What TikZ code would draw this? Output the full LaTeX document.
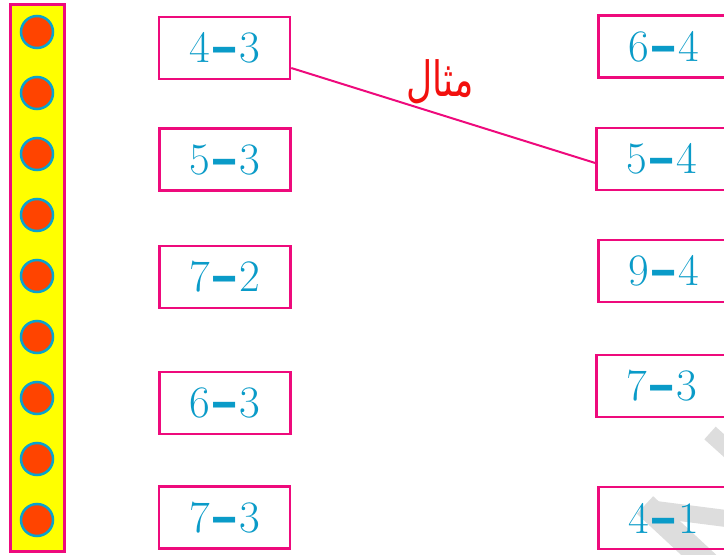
\documentclass[tikz,border=0pt]{standalone}
\usepackage{fontspec}
\usepackage{xcolor}
\usetikzlibrary{calc}
\TeXXeTstate=1
\newfontfamily\urdufont[Script=Arabic]{DejaVu Sans}
\newfontfamily\dashfont{DejaVu Sans}
\newcommand{\dsh}{\kern0.5pt\scalebox{1.25}[1]{\dashfont\bfseries –}\kern0.5pt}
\definecolor{rim}{HTML}{EE0A7C}
\definecolor{digit}{HTML}{0A9BC8}
\definecolor{dotfill}{HTML}{FF4400}
\definecolor{dotrim}{HTML}{0AA2CE}
\definecolor{strip}{HTML}{FFFF00}
\definecolor{wmgrey}{HTML}{DDDDDD}
\definecolor{wordred}{HTML}{F2100E}

\begin{document}
\begin{tikzpicture}[x=1pt,y=-1pt,
  b/.style={draw=rim,line width=2.5pt,minimum width=131pt,minimum height=62pt,inner sep=0pt,
    text=digit,font=\fontsize{45}{50}\selectfont},
  dot/.style={circle,draw=dotrim,line width=2.5pt,fill=dotfill,minimum size=32pt,inner sep=0pt},
  wm/.style={line width=17pt,draw=wmgrey}]
\useasboundingbox (0,0) rectangle (724,555);
\clip (0,0) rectangle (724,555);
% faint watermark strokes
\draw[wm] (710,433) -- (760,478);
\draw[wm,line width=24pt] (645,505) -- (715,570);
\draw[wm] (652,509) -- (730,519);
% strip of dots
\node[draw=rim,line width=3pt,fill=strip,minimum width=54pt,minimum height=547pt,inner sep=0pt] (bar) at (37,277.5) {};
\foreach \i in {1,...,9}
  \node[dot] (d\i) at (37,{32+61*(\i-1)}) {};
% left column
\node[b] (l1) at (224.5,48) {4\dsh3};
\node[b] (l2) at (225,159.5) {5\dsh3};
\node[b] (l3) at (225,277) {7\dsh2};
\node[b] (l4) at (225,403) {6\dsh3};
\node[b] (l5) at (224.5,517.5) {7\dsh3};
% right column
\node[b] (r1) at (664,46.5) {6\dsh4};
\node[b] (r2) at (662,159) {5\dsh4};
\node[b] (r3) at (664,271) {9\dsh4};
\node[b] (r4) at (662,386) {7\dsh3};
\node[b] (r5) at (664,518) {4\dsh1};
\draw[rim,line width=2pt] ([yshift=-20pt]l1.east) -- ([yshift=-4pt]r2.west);
\node[text=wordred,font=\fontsize{36}{42}\selectfont] (word) at (440,82) {\scalebox{1}[1.35]{\urdufont\beginR مثال\endR}};
\end{tikzpicture}
\end{document}
